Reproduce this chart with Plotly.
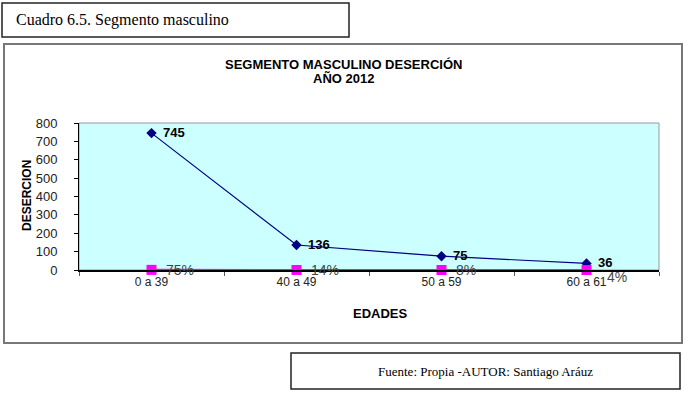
import plotly.graph_objects as go

categories = ["0 a 39", "40 a 49", "50 a 59", "60 a 61"]
desercion = [745, 136, 75, 36]
porcentaje = [0.75, 0.14, 0.08, 0.04]
porcentaje_labels = ["75%", "14%", "8%", "4%"]
y_ticks = [0, 100, 200, 300, 400, 500, 600, 700, 800]

W, H = 689, 396
L, R, T, B = 79, 659, 123, 270

def px(x):
    return (x - L) / (R - L)

def py(y):
    return (B - y) / (B - T)

fig = go.Figure()
fig.add_trace(go.Scatter(
    x=categories, y=desercion, mode="lines+markers",
    line=dict(color="#000080", width=1.2),
    marker=dict(symbol="diamond", size=8, color="#000080"),
    cliponaxis=False, showlegend=False))
fig.add_trace(go.Scatter(
    x=categories, y=porcentaje, mode="lines+markers",
    line=dict(color="#FF00FF", width=2),
    marker=dict(symbol="square", size=10, color="#FF00FF"),
    cliponaxis=False, showlegend=False))

ann = []
for c, v in zip(categories, desercion):
    ann.append(dict(x=c, y=v, text="<b>%d</b>" % v, showarrow=False,
                    xanchor="left", yanchor="middle", xshift=9, yshift=1,
                    font=dict(family="Arial, Liberation Sans, sans-serif", size=13, color="#000")))
for i, (c, v, t) in enumerate(zip(categories, porcentaje, porcentaje_labels)):
    ann.append(dict(x=c, y=v, text=t, showarrow=False,
                    xanchor="left", yanchor="middle", xshift=(18 if i == 3 else 12), yshift=(-7 if i == 3 else 0),
                    font=dict(family="Arial, Liberation Sans, sans-serif", size=14, color="#444")))

def pann(x, y, text, size, family="Arial, Liberation Sans, sans-serif", xanchor="center", angle=0):
    return dict(xref="paper", yref="paper", x=px(x), y=py(y), text=text, textangle=angle,
                xanchor=xanchor, yanchor="middle", showarrow=False,
                font=dict(family=family, size=size, color="#000"))

serif = "Liberation Serif, Times New Roman, serif"
ann += [
    pann(343, 64, "<b>SEGMENTO MASCULINO DESERCIÓN</b>", 13),
    pann(343, 79, "<b>AÑO 2012</b>", 13),
    pann(27, 196, "<b>DESERCION</b>", 12, angle=-90),
    pann(380, 313, "<b>EDADES</b>", 13),
    pann(14, 20, "Cuadro 6.5. Segmento masculino", 16, family=serif, xanchor="left"),
    pann(485, 371, "Fuente: Propia -AUTOR: Santiago Aráuz", 13, family=serif),
]

shapes = [
    dict(type="rect", xref="paper", yref="paper", x0=px(2), x1=px(349), y0=py(3), y1=py(37),
         line=dict(color="#222", width=1.5), layer="below"),
    dict(type="rect", xref="paper", yref="paper", x0=px(4), x1=px(682), y0=py(44), y1=py(343),
         line=dict(color="#777", width=2), layer="below"),
    dict(type="rect", xref="paper", yref="paper", x0=px(291), x1=px(680), y0=py(353), y1=py(389),
         line=dict(color="#222", width=1.5), layer="below"),
    dict(type="rect", xref="paper", yref="paper", x0=0, x1=1, y0=0, y1=1,
         line=dict(color="#999", width=1), layer="below"),
]

fig.update_layout(
    width=W, height=H,
    margin=dict(l=L, r=W - R, t=T, b=H - B),
    paper_bgcolor="white", plot_bgcolor="#CCFFFF",
    annotations=ann, shapes=shapes,
    font=dict(family="Arial, Liberation Sans, sans-serif", color="#222"),
    xaxis=dict(type="category", range=[-0.5, 3.5], showgrid=False, showline=True,
               linecolor="#000", linewidth=1.5, ticks="outside", tickson="boundaries",
               ticklen=4, tickcolor="#555", tickfont=dict(size=12),
               zeroline=False),
    yaxis=dict(range=[0, 800], tickvals=y_ticks, showgrid=False, showline=True,
               linecolor="#000", linewidth=1, ticks="outside", ticklen=4, tickcolor="#000",
               ticklabelstandoff=14, tickfont=dict(size=13), zeroline=False),
)

fig.write_html("out.html")
